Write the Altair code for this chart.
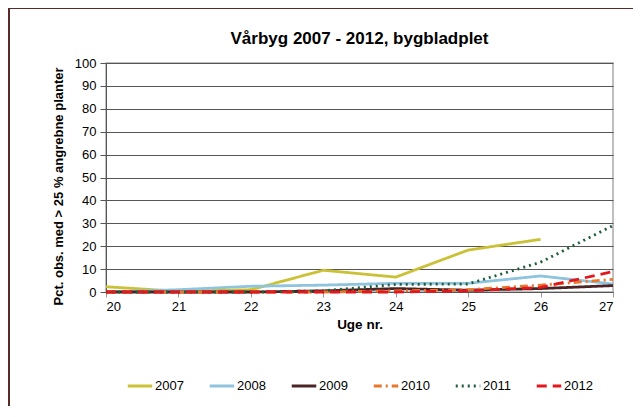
import altair as alt
import pandas as pd

weeks = [20, 21, 22, 23, 24, 25, 26, 27]
years = ["2007", "2008", "2009", "2010", "2011", "2012"]
v2007 = [2.3, 0.3, 1.0, 9.5, 6.5, 18.3, 23.0]
v2008 = [0.0, 1.0, 2.5, 3.0, 3.8, 3.8, 7.0, 3.5]
v2009 = [0.0, 0.0, 0.0, 0.5, 1.5, 0.8, 1.5, 2.8]
v2010 = [0.0, 0.0, 0.0, 0.0, 0.5, 1.0, 3.0, 5.5]
v2011 = [0.0, 0.0, 0.0, 0.5, 3.3, 3.5, 13.0, 29.0]
v2012 = [0.0, 0.0, 0.0, 0.0, 0.0, 0.5, 2.0, 8.9]
series = [v2007, v2008, v2009, v2010, v2011, v2012]

colors = ["#CBC136", "#8FC4DE", "#4B2426", "#E8772C", "#1F5E3C", "#E2181C"]
dashes = [[1, 0], [1, 0], [1, 0], [8, 4, 2, 4], [2, 4], [10, 6]]

rows = []
for y, vals in zip(years, series):
    for w, v in zip(weeks, vals):
        rows.append({"week": w, "value": v, "year": y})
df = pd.DataFrame(rows)

FONT = "Liberation Sans"

def make_legend():
    return alt.Legend(orient="none", legendX=20, legendY=309, direction="horizontal",
                      columns=6, symbolType="stroke", symbolSize=600,
                      symbolStrokeWidth=3, labelFontSize=13, labelOffset=1,
                      columnPadding=19, labelColor="#000000")

lines = alt.Chart(df).mark_line(strokeWidth=2.8, strokeCap="butt").encode(
    x=alt.X("week:Q", scale=alt.Scale(domain=[20, 27], nice=False),
            axis=alt.Axis(values=weeks, title="Uge nr.", grid=False, labelFontSize=13,
                          tickColor="#999999", tickSize=5, domainColor="#555555",
                          labelPadding=3, titlePadding=4, titleFontSize=13.5,
                          titleFontWeight="bold", format="d")),
    y=alt.Y("value:Q", scale=alt.Scale(domain=[0, 100], nice=False),
            axis=alt.Axis(values=list(range(0, 101, 10)),
                          title="Pct. obs. med > 25 % angrebne planter",
                          gridColor="#555555", gridWidth=1, labelFontSize=13,
                          tickColor="#555555", tickSize=6, domainColor="#555555",
                          labelPadding=4, titlePadding=9, titleFontSize=13,
                          titleY=123, titleFontWeight="bold")),
    color=alt.Color("year:N", scale=alt.Scale(domain=years, range=colors), title=None,
                    legend=make_legend()),
    strokeDash=alt.StrokeDash("year:N", scale=alt.Scale(domain=years, range=dashes), title=None,
                              legend=make_legend()),
)

frame_top = alt.Chart(df).mark_rule(color="#5A2A2A", strokeWidth=1.2).encode(
    x=alt.value(-97), x2=alt.value(530), y=alt.value(-55))
frame_left = alt.Chart(df).mark_rule(color="#5A2A2A", strokeWidth=1.2).encode(
    x=alt.value(-97), y=alt.value(-55), y2=alt.value(345))

chart = alt.layer(lines, frame_top, frame_left).properties(
    width=507, height=229,
    autosize=alt.AutoSizeParams(type="none"),
    padding={"left": 98, "top": 55, "right": 20, "bottom": 114},
    title=alt.TitleParams("Vårbyg 2007 - 2012, bygbladplet", fontSize=17, fontWeight="bold",
                          anchor="middle", offset=12, dy=53, font=FONT, color="#000000"),
).configure(font=FONT).configure_view(stroke="#AAAAAA", strokeWidth=1.5).configure_axis(
    labelColor="#000000", titleColor="#000000", labelFont=FONT, titleFont=FONT
).configure_legend(labelFont=FONT)

chart.save("out.html", embed_options={"renderer": "svg", "actions": False})
